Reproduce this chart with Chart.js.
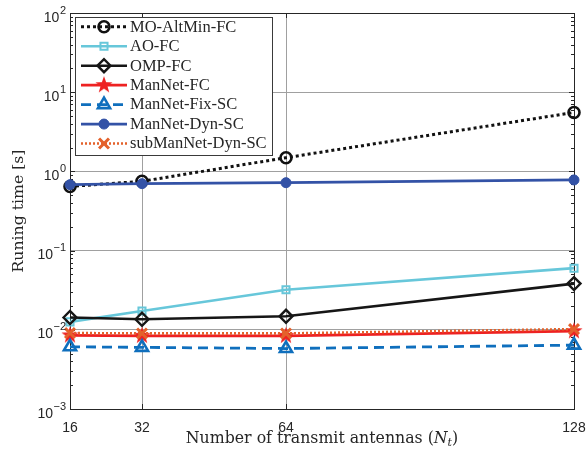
<!DOCTYPE html>
<html>
<head>
<meta charset="utf-8">
<script src="https://cdn.jsdelivr.net/npm/chart.js@4.4.1/dist/chart.umd.min.js"></script>
<style>
  html, body { margin: 0; padding: 0; background: #fff; }
  canvas { display: block; }
</style>
</head>
<body>
<canvas id="chart" width="588" height="457"></canvas>
<script>
// number of transmit antennas and the log-axis decades
const antennas = [16, 32, 64, 128];
const yDecades = [1e-3, 1e-2, 1e-1, 1e0, 1e1, 1e2];

// running time in seconds per method
const moAltMinFC = [0.645, 0.75, 1.49, 5.55];
const aoFC = [0.0126, 0.0173, 0.0321, 0.060];
const ompFC = [0.0143, 0.0136, 0.0148, 0.0383];
const manNetFC = [0.0085, 0.0084, 0.0084, 0.0096];
const manNetFixSC = [0.0061, 0.0060, 0.0058, 0.0064];
const manNetDynSC = [0.68, 0.70, 0.72, 0.78];
const subManNetDynSC = [0.0091, 0.0090, 0.0090, 0.0102];

const axisColor = '#262626';
const gridColor = '#a0a0a0';
const serif = '"Liberation Serif", "Times New Roman", serif';
const wideSerif = '"DejaVu Serif", serif';
const sans = '"Liberation Sans", Arial, sans-serif';

function makeStar(color, r) {
  const c = document.createElement('canvas');
  const s = Math.ceil(r * 2 + 2);
  c.width = s;
  c.height = s;
  const g = c.getContext('2d');
  g.beginPath();
  for (let i = 0; i < 10; i++) {
    const rad = i % 2 ? r * 0.4 : r;
    const a = -Math.PI / 2 + i * Math.PI / 5;
    g.lineTo(s / 2 + rad * Math.cos(a), s / 2 + rad * Math.sin(a));
  }
  g.closePath();
  g.fillStyle = color;
  g.fill();
  return c;
}

function series(label, values, style) {
  return {
    label,
    data: values.map((v, i) => ({ x: antennas[i], y: v })),
    fill: false,
    tension: 0,
    clip: false,
    borderCapStyle: 'butt',
    ...style
  };
}

const datasets = [
  series('MO-AltMin-FC', moAltMinFC, {
    borderColor: '#111', borderWidth: 3, borderDash: [3, 3],
    pointStyle: 'circle', pointRadius: 5.5, pointBorderWidth: 2.6,
    pointBorderColor: '#111', pointBackgroundColor: 'rgba(255,255,255,0)'
  }),
  series('AO-FC', aoFC, {
    borderColor: '#67c7da', borderWidth: 2.6,
    pointStyle: 'rect', pointRadius: 5, pointBorderWidth: 2,
    pointBorderColor: '#67c7da', pointBackgroundColor: 'rgba(255,255,255,0)'
  }),
  series('OMP-FC', ompFC, {
    borderColor: '#161616', borderWidth: 2.6,
    pointStyle: 'rectRot', pointRadius: 6.5, pointBorderWidth: 2.4,
    pointBorderColor: '#161616', pointBackgroundColor: 'rgba(255,255,255,0)'
  }),
  series('ManNet-FC', manNetFC, {
    borderColor: '#ee2222', borderWidth: 2.8,
    pointStyle: makeStar('#ee2222', 9), pointRadius: 9, pointBorderWidth: 0,
    pointBorderColor: '#ee2222', pointBackgroundColor: '#ee2222'
  }),
  series('ManNet-Fix-SC', manNetFixSC, {
    borderColor: '#0f6fbd', borderWidth: 2.8, borderDash: [10, 6],
    pointStyle: 'triangle', pointRadius: 7, pointBorderWidth: 2.6,
    pointBorderColor: '#0f6fbd', pointBackgroundColor: 'rgba(255,255,255,0)'
  }),
  series('ManNet-Dyn-SC', manNetDynSC, {
    borderColor: '#3352a6', borderWidth: 2.8,
    pointStyle: 'circle', pointRadius: 5, pointBorderWidth: 1,
    pointBorderColor: '#3352a6', pointBackgroundColor: '#3352a6'
  }),
  series('subManNet-Dyn-SC', subManNetDynSC, {
    borderColor: '#e4612b', borderWidth: 2.6, borderDash: [2, 2],
    pointStyle: 'crossRot', pointRadius: 7, pointBorderWidth: 3,
    pointBorderColor: '#e4612b', pointBackgroundColor: '#e4612b'
  })
];
// later series are painted over earlier ones
datasets.forEach((ds, i) => { ds.order = datasets.length - i; });

function drawPower(ctx, exp, xRight, y) {
  const expText = exp < 0 ? '\u2212' + (-exp) : String(exp);
  ctx.textAlign = 'right';
  ctx.textBaseline = 'alphabetic';
  ctx.font = '11px ' + sans;
  const ew = ctx.measureText(expText).width;
  ctx.fillText(expText, xRight, y + 0.5);
  ctx.font = '14px ' + sans;
  ctx.fillText('10', xRight - ew - 0.5, y + 8.5);
}

// font size that makes the text span the given width
function sizeForWidth(ctx, text, family, width) {
  ctx.font = '20px ' + family;
  return 20 * width / ctx.measureText(text).width;
}

const frame = {
  id: 'frame',
  beforeDatasetsDraw(chart) {
    const { ctx, chartArea: a, scales } = chart;
    ctx.save();
    ctx.strokeStyle = axisColor;
    ctx.lineWidth = 1;
    ctx.strokeRect(Math.round(a.left) + 0.5, Math.round(a.top) + 0.5,
      Math.round(a.right - a.left), Math.round(a.bottom - a.top));
    ctx.beginPath();
    antennas.forEach(v => {
      const x = Math.round(scales.x.getPixelForValue(v)) + 0.5;
      ctx.moveTo(x, a.bottom); ctx.lineTo(x, a.bottom - 5);
      ctx.moveTo(x, a.top); ctx.lineTo(x, a.top + 5);
    });
    yDecades.forEach((d, i) => {
      const y = Math.round(scales.y.getPixelForValue(d)) + 0.5;
      ctx.moveTo(a.left, y); ctx.lineTo(a.left + 5, y);
      ctx.moveTo(a.right, y); ctx.lineTo(a.right - 5, y);
      if (i === yDecades.length - 1) return;
      for (let k = 2; k <= 9; k++) {
        const ym = Math.round(scales.y.getPixelForValue(k * d)) + 0.5;
        ctx.moveTo(a.left, ym); ctx.lineTo(a.left + 3, ym);
        ctx.moveTo(a.right, ym); ctx.lineTo(a.right - 3, ym);
      }
    });
    ctx.stroke();
    ctx.restore();
  },
  afterDraw(chart) {
    const { ctx, chartArea: a, scales } = chart;
    ctx.save();
    ctx.fillStyle = axisColor;

    // tick labels
    yDecades.forEach(d => {
      drawPower(ctx, Math.round(Math.log10(d)), a.left - 4, scales.y.getPixelForValue(d));
    });
    ctx.font = '14px ' + sans;
    ctx.textAlign = 'center';
    ctx.textBaseline = 'alphabetic';
    antennas.forEach(v => {
      ctx.fillText(String(v), scales.x.getPixelForValue(v), a.bottom + 23);
    });

    // x title with italic N_t
    const fs = sizeForWidth(ctx, 'Number of transmit antennas (N)', wideSerif, 268);
    const parts = [
      { t: 'Number of transmit antennas (', f: fs + 'px ' + wideSerif, dy: 0 },
      { t: 'N', f: 'italic ' + fs + 'px ' + wideSerif, dy: 0 },
      { t: 't', f: 'italic ' + (fs * 0.7) + 'px ' + wideSerif, dy: 3 },
      { t: ')', f: fs + 'px ' + wideSerif, dy: 0 }
    ];
    let total = 0;
    parts.forEach(p => { ctx.font = p.f; p.w = ctx.measureText(p.t).width; total += p.w; });
    let x = (a.left + a.right) / 2 - total / 2;
    ctx.textAlign = 'left';
    parts.forEach(p => {
      ctx.font = p.f;
      ctx.fillText(p.t, x, 443 + p.dy);
      x += p.w;
    });

    // y title
    ctx.save();
    ctx.translate(19, (a.top + a.bottom) / 2);
    ctx.rotate(-Math.PI / 2);
    const ys = sizeForWidth(ctx, 'Runing time [s]', wideSerif, 123);
    ctx.font = ys + 'px ' + wideSerif;
    ctx.textAlign = 'center';
    ctx.textBaseline = 'middle';
    ctx.fillText('Runing time [s]', 0, 0);
    ctx.restore();

    // legend box
    const lx = 75, ly = 17, lw = 197, lh = 138;
    ctx.fillStyle = '#fff';
    ctx.fillRect(lx, ly, lw, lh);
    ctx.strokeStyle = '#3a3a3a';
    ctx.lineWidth = 1;
    ctx.strokeRect(lx + 0.5, ly + 0.5, lw, lh);
    chart.data.datasets.forEach((ds, i) => {
      const y = ly + 9.8 + i * 19.45;
      ctx.save();
      ctx.strokeStyle = ds.borderColor;
      ctx.lineWidth = ds.borderWidth;
      ctx.lineCap = 'butt';
      ctx.setLineDash(ds.borderDash || []);
      ctx.beginPath();
      ctx.moveTo(81, y);
      ctx.lineTo(127, y);
      ctx.stroke();
      ctx.setLineDash([]);
      ctx.fillStyle = ds.pointBackgroundColor;
      ctx.strokeStyle = ds.pointBorderColor;
      ctx.lineWidth = ds.pointBorderWidth;
      Chart.helpers.drawPoint(ctx, {
        pointStyle: ds.pointStyle, radius: ds.pointRadius,
        borderWidth: ds.pointBorderWidth, rotation: 0
      }, 104, y);
      ctx.restore();
      ctx.fillStyle = axisColor;
      ctx.font = '16.5px ' + serif;
      ctx.textAlign = 'left';
      ctx.textBaseline = 'middle';
      ctx.fillText(ds.label, 130, y + 0.5);
    });
    ctx.restore();
  }
};

new Chart(document.getElementById('chart'), {
  type: 'line',
  data: { datasets },
  options: {
    responsive: false,
    animation: false,
    devicePixelRatio: 1,
    layout: { padding: { top: 13, right: 14, left: 0, bottom: 0 } },
    plugins: { legend: { display: false }, tooltip: { enabled: false } },
    scales: {
      x: {
        type: 'linear', min: 16, max: 128,
        afterBuildTicks: s => { s.ticks = antennas.map(v => ({ value: v })); },
        afterFit: s => { s.height = 48; },
        ticks: { display: false },
        grid: { color: gridColor, lineWidth: 1, drawTicks: false },
        border: { display: false }
      },
      y: {
        type: 'logarithmic', min: 1e-3, max: 1e2,
        afterBuildTicks: s => { s.ticks = yDecades.map(v => ({ value: v })); },
        afterFit: s => { s.width = 70; },
        ticks: { display: false },
        grid: { color: gridColor, lineWidth: 1, drawTicks: false },
        border: { display: false }
      }
    }
  },
  plugins: [frame]
});
</script>
</body>
</html>
